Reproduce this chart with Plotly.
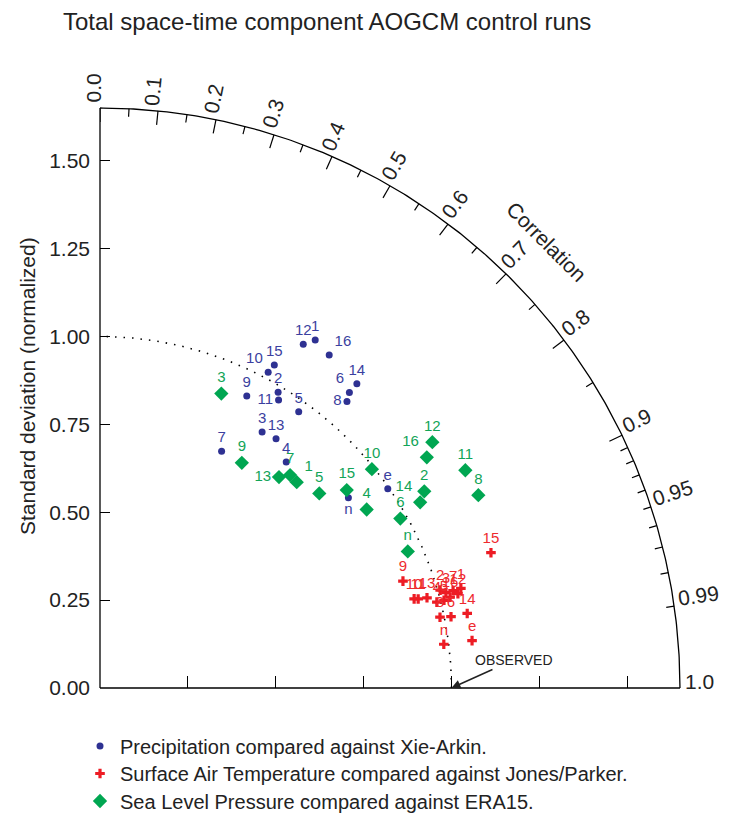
import numpy as np
import plotly.graph_objects as go

# ---------------- data (normalized std, correlation) ----------------
pr_labels = ["1","2","3","4","5","6","7","8","9","10","11","12","13","14","15","16","e","n"]
pr_std  = [1.164,0.982,0.862,0.833,0.968,1.100,0.757,1.076,0.930,1.018,0.964,1.136,0.868,1.133,1.044,1.150,0.996,0.890]
pr_corr = [0.526,0.516,0.535,0.636,0.584,0.645,0.457,0.653,0.449,0.470,0.527,0.509,0.577,0.645,0.475,0.567,0.822,0.794]

sat_labels = ["1","2","3","4","5","6","7","8","9","10","11","12","13","14","15","16","e","n"]
sat_std  = [1.065,1.007,1.021,0.989,1.010,1.019,1.042,0.988,0.914,0.929,0.940,1.053,0.965,1.066,1.177,1.029,1.067,0.986]
sat_corr = [0.964,0.961,0.964,0.969,0.969,0.980,0.964,0.979,0.943,0.962,0.963,0.967,0.964,0.980,0.945,0.968,0.992,0.992]

slp_labels = ["1","2","3","4","5","6","7","8","9","10","11","12","13","14","15","16","n"]
slp_std  = [0.810,1.079,0.906,0.913,0.834,0.981,0.812,1.208,0.757,0.993,1.210,1.176,0.787,1.053,0.900,1.138,0.958]
slp_corr = [0.691,0.855,0.381,0.831,0.748,0.871,0.666,0.891,0.533,0.779,0.859,0.804,0.647,0.865,0.780,0.817,0.914]

std_ticks = [0.0, 0.25, 0.5, 0.75, 1.0, 1.25, 1.5]
std_ticktext = ["0.00", "0.25", "0.50", "0.75", "1.00", "1.25", "1.50"]
corr_major = [0.0, 0.1, 0.2, 0.3, 0.4, 0.5, 0.6, 0.7, 0.8, 0.9]
corr_minor = [0.05, 0.15, 0.25, 0.35, 0.45, 0.55, 0.65, 0.75, 0.85,
              0.91, 0.92, 0.93, 0.94, 0.95, 0.96, 0.97, 0.98, 0.99]
corr_labels = [0.0, 0.1, 0.2, 0.3, 0.4, 0.5, 0.6, 0.7, 0.8, 0.9, 0.95, 0.99, 1.0]
corr_labeltext = ["0.0", "0.1", "0.2", "0.3", "0.4", "0.5", "0.6", "0.7", "0.8", "0.9", "0.95", "0.99", "1.0"]

legend_names = ["Precipitation compared against Xie-Arkin.",
                "Surface Air Temperature compared against Jones/Parker.",
                "Sea Level Pressure compared against ERA15."]

# ---------------- styling / geometry ----------------
FONT = "Liberation Sans, Arial, Helvetica, sans-serif"
PX = 351.5            # pixels per unit of std
PLOT = 584            # plot area size in px
R = PLOT / PX         # axis range
RMAX = 1.65
BLUE, RED, GREEN = "#2E3192", "#ED1C24", "#00A651"
BLUE_T, RED_T, GREEN_T = "#3B3FA0", "#EE2A2E", "#12A458"

pr_pos = ["top center"] * 18
for i, p in {5: "top left", 7: "middle left", 9: "top left", 10: "middle left",
             15: "top right", 17: "bottom center"}.items():
    pr_pos[i] = p
slp_pos = ["top center"] * 17
for i, p in {0: "top right", 12: "middle left", 13: "top left", 15: "top left"}.items():
    slp_pos[i] = p
sat_pos = ["top center"] * 18


def to_xy(std, corr):
    std = np.asarray(std, float)
    corr = np.asarray(corr, float)
    return std * corr, std * np.sqrt(1 - corr ** 2)


fig = go.Figure()

# outer arc
th = np.linspace(0, np.pi / 2, 300)
fig.add_trace(go.Scatter(x=RMAX * np.cos(th), y=RMAX * np.sin(th), mode="lines",
                         line=dict(color="black", width=1.3), hoverinfo="skip", showlegend=False))
# reference (observed std = 1) arc
fig.add_trace(go.Scatter(x=np.cos(th), y=np.sin(th), mode="lines",
                         line=dict(color="black", width=1.6, dash="1.5px,7px"),
                         hoverinfo="skip", showlegend=False))

# correlation tick marks
tx, ty = [], []
for vals, ln in ((corr_major, 14), (corr_minor, 8)):
    for c in vals:
        t = np.arccos(c)
        for r in (RMAX, RMAX - ln / PX):
            tx.append(r * np.cos(t)); ty.append(r * np.sin(t))
        tx.append(None); ty.append(None)
fig.add_trace(go.Scatter(x=tx, y=ty, mode="lines", line=dict(color="black", width=1.2),
                         hoverinfo="skip", showlegend=False))

# data
x, y = to_xy(pr_std, pr_corr)
fig.add_trace(go.Scatter(x=x, y=y, mode="markers+text", text=pr_labels, textposition=pr_pos,
                         textfont=dict(color=BLUE_T, size=15, family=FONT),
                         marker=dict(symbol="circle", size=7, color=BLUE),
                         name=legend_names[0], legend="legend"))
x, y = to_xy(sat_std, sat_corr)
fig.add_trace(go.Scatter(x=x, y=y, mode="markers+text", text=sat_labels, textposition=sat_pos,
                         textfont=dict(color=RED_T, size=15, family=FONT),
                         marker=dict(symbol="cross", size=8, color=RED),
                         name=legend_names[1], legend="legend2"))
x, y = to_xy(slp_std, slp_corr)
fig.add_trace(go.Scatter(x=x, y=y, mode="markers+text", text=slp_labels, textposition=slp_pos,
                         textfont=dict(color=GREEN_T, size=15, family=FONT),
                         marker=dict(symbol="diamond", size=11, color=GREEN),
                         name=legend_names[2], legend="legend3"))

annotations = []
LFS = 21
for c, txt in zip(corr_labels, corr_labeltext):
    t = np.arccos(c)
    nd = sum(ch.isdigit() for ch in txt)
    w = LFS * (0.556 * nd + 0.278)
    rc = RMAX + (5 + w / 2) / PX
    p = 7 / PX
    annotations.append(dict(x=(rc * np.cos(t) - p * np.sin(t)) / R,
                            y=(rc * np.sin(t) + p * np.cos(t)) / R,
                            xref="paper", yref="paper", text=txt, showarrow=False,
                            textangle=-np.degrees(t), xanchor="center", yanchor="middle",
                            font=dict(size=LFS, family=FONT, color="#222")))
# "Correlation" axis title
tc = np.radians(45)
rc = 631 / PX
annotations.append(dict(x=rc * np.cos(tc) / R, y=rc * np.sin(tc) / R, xref="paper", yref="paper",
                        text="Correlation", showarrow=False, textangle=45,
                        xanchor="center", yanchor="middle",
                        font=dict(size=21, family=FONT, color="#222")))
# y-axis title
annotations.append(dict(x=(27 - 100) / PLOT, y=(688 - 386) / PLOT, xref="paper", yref="paper",
                        text="Standard deviation (normalized)", showarrow=False, textangle=-90,
                        xanchor="center", yanchor="middle",
                        font=dict(size=21, family=FONT, color="#222")))
# OBSERVED arrow
annotations.append(dict(x=1.0, y=0.0, xref="x", yref="y", text="OBSERVED", showarrow=True,
                        ax=62, ay=-28, arrowhead=2, arrowsize=1.2, arrowwidth=1.5,
                        arrowcolor="#222", standoff=0,
                        font=dict(size=14, family=FONT, color="#222")))

shapes = [
    dict(type="line", xref="paper", yref="paper", x0=0, x1=RMAX / R, y0=0, y1=0,
         line=dict(color="black", width=1.3)),
    dict(type="line", xref="paper", yref="paper", x0=0, x1=0, y0=0, y1=RMAX / R,
         line=dict(color="black", width=1.3)),
]


def leg(yc):
    return dict(x=(80 - 100) / PLOT, xanchor="left", y=(688 - yc) / PLOT, yanchor="middle",
                orientation="v", font=dict(size=20, family=FONT, color="#222"),
                bgcolor="rgba(0,0,0,0)", itemwidth=30, borderwidth=0)


fig.update_layout(
    width=733, height=814,
    margin=dict(l=100, r=733 - 100 - PLOT, t=814 - 126 - PLOT, b=126, pad=0, autoexpand=False),
    paper_bgcolor="white", plot_bgcolor="white",
    font=dict(family=FONT, color="#222"),
    title=dict(text="Total space-time component AOGCM control runs", x=63 / 733, xanchor="left",
               xref="container", y=1 - 22 / 814, yanchor="middle", yref="container",
               font=dict(size=24, family=FONT, color="#222")),
    xaxis=dict(range=[0, R], showgrid=False, zeroline=False, showline=False,
               tickvals=std_ticks[1:], ticks="inside", ticklen=12, tickwidth=1.3, tickcolor="black",
               showticklabels=False, fixedrange=True),
    yaxis=dict(range=[0, R], showgrid=False, zeroline=False, showline=False,
               tickvals=std_ticks, ticktext=std_ticktext, ticks="inside", ticklen=10,
               tickwidth=1.3, tickcolor="black", ticklabelstandoff=9,
               tickfont=dict(size=21, family=FONT, color="#222"), fixedrange=True),
    showlegend=True,
    legend=leg(746), legend2=leg(773.5), legend3=leg(801),
    annotations=annotations,
    shapes=shapes,
)

fig.write_html("out.html", config={"displayModeBar": False},
               post_script="document.body.style.margin='0';document.body.style.overflow='hidden';")
